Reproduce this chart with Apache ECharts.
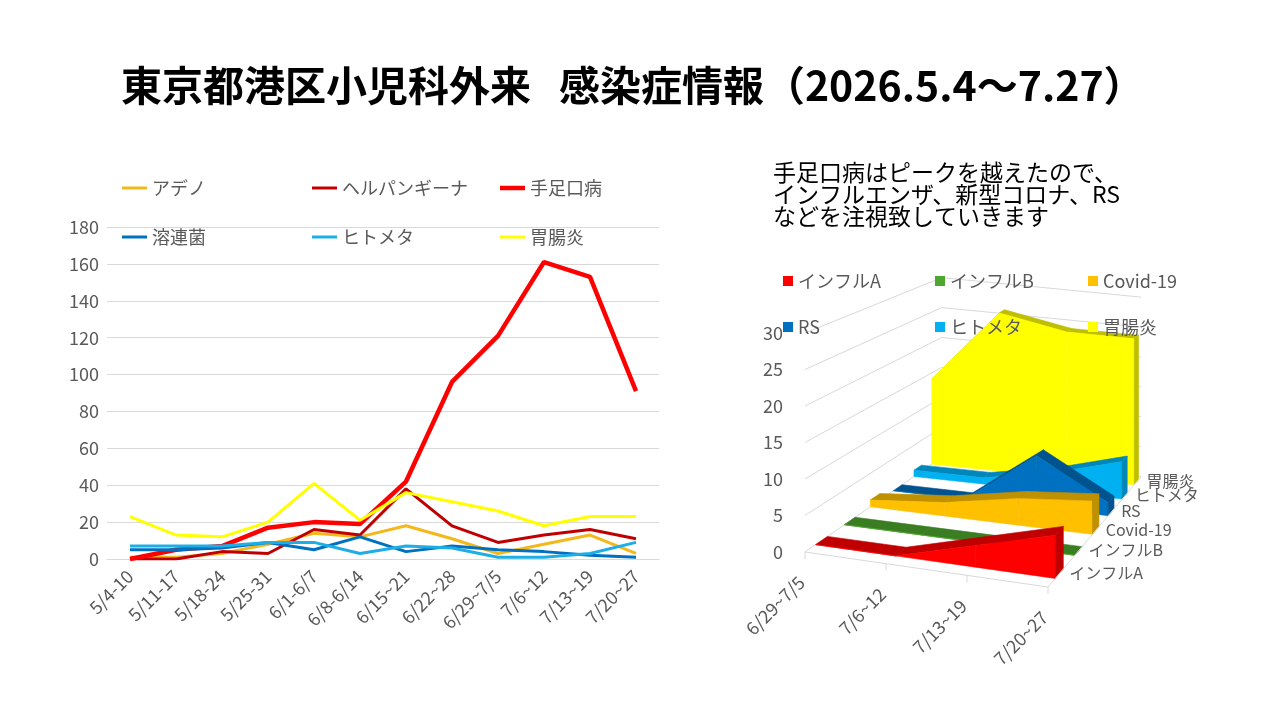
<!DOCTYPE html>
<html>
<head>
<meta charset="utf-8">
<script src="https://cdn.jsdelivr.net/npm/echarts@6/dist/echarts.min.js"></script>
<style>
  html, body { margin: 0; padding: 0; background: #fff; }
  #chart { width: 1280px; height: 720px; }
</style>
</head>
<body>
<div id="chart"></div>
<script>
// ---- line chart data ----
const weeks = ['5/4-10', '5/11-17', '5/18-24', '5/25-31', '6/1-6/7', '6/8-6/14',
  '6/15~21', '6/22~28', '6/29~7/5', '7/6~12', '7/13~19', '7/20~27'];
const adeno = [1, 1, 3, 8, 14, 12, 18, 11, 3, 8, 13, 3];
const herpangina = [0, 0, 4, 3, 16, 13, 38, 18, 9, 13, 16, 11];
const hfmd = [0, 5, 7, 17, 20, 19, 42, 96, 121, 161, 153, 91];
const strep = [5, 5, 6, 9, 5, 12, 4, 7, 5, 4, 2, 1];
const hmpv = [7, 7, 7, 9, 9, 3, 7, 6, 1, 1, 3, 9];
const gastro = [23, 13, 12, 20, 41, 21, 36, 31, 26, 18, 23, 23];

// ---- 3d area chart data (front row first) ----
const weeks3d = ['6/29~7/5', '7/6~12', '7/13~19', '7/20~27'];
const names3d = ['インフルA', 'インフルB', 'Covid-19', 'RS', 'ヒトメタ', '胃腸炎'];
const fluA = [0, 0, 3, 6];
const fluB = [0, 0, 0, 0];
const covid = [1, 2, 4, 5];
const rs = [0, 0, 8, 2];
const hmpv3d = [1, 1, 3, 6];
const gastro3d = [14, 26, 24, 24];
const ticks3d = [0, 5, 10, 15, 20, 25, 30];

const rows3d = [fluA, fluB, covid, rs, hmpv3d, gastro3d];
const colors3d = ['#ff0000', '#4ea72e', '#ffc000', '#0070c0', '#00b0f0', '#ffff00'];
const shade3d = ['#c00000', '#3a7d22', '#bf9000', '#00538f', '#0086b8', '#bfbf00'];

const FONT = '"Noto Sans CJK JP", "Noto Sans", sans-serif';
const GRAY = '#595959';

// rough perspective of (category, value, depth) onto grid 1
const DX = 0.2815, DY = 2.164, SLOPE = 1.6, DEPTH = 6;
const KX = 0.03, KS = 0.074, KV = 0.03, WARP = 0.06;
function proj(api, c, v, d) {
  const w = d + WARP * d * (DEPTH - d);
  return api.coord([
    w * DX + c * (1 - KX * w),
    w * DY + v * (1 - KV * w) - SLOPE * c * (1 - KS * w)
  ]);
}
const poly = (pts, color) => ({
  type: 'polygon', shape: { points: pts },
  style: { fill: color, stroke: color, lineWidth: 0.6 }
});

const chart = echarts.init(document.getElementById('chart'));

const lineSeries = [
  ['アデノ', adeno, '#f4b81c', 3],
  ['ヘルパンギーナ', herpangina, '#c00000', 3],
  ['手足口病', hfmd, '#ff0000', 4.5],
  ['溶連菌', strep, '#0070c0', 3],
  ['ヒトメタ', hmpv, '#1eaee6', 3],
  ['胃腸炎', gastro, '#ffff00', 3]
].map(([name, data, color, width]) => ({
  type: 'line', name, data, xAxisIndex: 0, yAxisIndex: 0,
  symbol: 'none', color,
  lineStyle: { color, width }
}));

const areaSeries = [];
for (let s = rows3d.length - 1; s >= 0; s--) {
  const vals = rows3d[s];
  areaSeries.push({
    type: 'custom', name: names3d[s], xAxisIndex: 1, yAxisIndex: 1,
    itemStyle: { color: colors3d[s] }, clip: false, silent: true,
    data: vals.map((v, i) => [i, v]),
    renderItem: (params, api) => {
      const i = api.value(0), v = api.value(1);
      const d0 = s + 0.35, d1 = s + 0.75;
      const kids = [];
      if (i < vals.length - 1) {
        const vn = vals[i + 1];
        kids.push(poly([proj(api, i, v, d0), proj(api, i + 1, vn, d0),
          proj(api, i + 1, vn, d1), proj(api, i, v, d1)], shade3d[s]));
        kids.push(poly([proj(api, i, 0, d0), proj(api, i, v, d0),
          proj(api, i + 1, vn, d0), proj(api, i + 1, 0, d0)], colors3d[s]));
      } else {
        kids.push(poly([proj(api, i, 0, d0), proj(api, i, v, d0),
          proj(api, i, v, d1), proj(api, i, 0, d1)], shade3d[s]));
      }
      return { type: 'group', children: kids };
    }
  });
}

// walls: gridlines on the side and back walls
const wallSeries = {
  type: 'custom', xAxisIndex: 1, yAxisIndex: 1, clip: false, silent: true,
  data: ticks3d.map(t => [t]),
  renderItem: (params, api) => {
    const v = api.value(0), last = weeks3d.length - 1;
    return {
      type: 'polyline',
      shape: { points: [proj(api, 0, v, 0), proj(api, 0, v, DEPTH), proj(api, last, v, DEPTH)] },
      style: { stroke: '#d9d9d9', lineWidth: 1, fill: null }
    };
  }
};

// floor edges, category labels and row labels
const axisSeries = {
  type: 'custom', xAxisIndex: 1, yAxisIndex: 1, clip: false, silent: true,
  data: weeks3d.map((w, i) => [i]),
  renderItem: (params, api) => {
    const i = api.value(0), last = weeks3d.length - 1;
    const kids = [];
    const p = proj(api, i, 0, 0);
    kids.push({ type: 'line', shape: { x1: p[0], y1: p[1], x2: p[0], y2: p[1] + 7 },
      style: { stroke: '#d9d9d9', lineWidth: 1 } });
    kids.push({ type: 'text', x: p[0] - 10, y: p[1] + 21, rotation: Math.PI / 4,
      style: { text: weeks3d[i], align: 'right', verticalAlign: 'top',
        fill: GRAY, fontSize: 18, fontFamily: FONT } });
    if (i === 0) {
      const q = proj(api, last, 0, 0), r = proj(api, last, 0, DEPTH);
      kids.push({ type: 'polyline', shape: { points: [p, q, r] },
        style: { stroke: '#d9d9d9', lineWidth: 1, fill: null } });
      names3d.forEach((n, s) => {
        const a = proj(api, last, 0, s + 0.55);
        kids.push({ type: 'text', x: a[0] + 10, y: a[1] - 1,
          style: { text: n, align: 'left', verticalAlign: 'middle',
            fill: GRAY, fontSize: 16, fontFamily: FONT } });
      });
    }
    return { type: 'group', children: kids };
  }
};

const legendText = { color: GRAY, fontSize: 18, fontFamily: FONT };
const lineLegendPos = [[122, 179], [312, 179], [500, 179], [122, 228], [312, 228], [500, 228]];
const areaLegendPos = [[783, 272], [935, 272], [1088, 272], [783, 318], [935, 318], [1088, 318]];
const legends = [];
lineSeries.forEach((sr, k) => legends.push({
  data: [{ name: sr.name, icon: 'rect', itemStyle: { color: sr.color } }],
  left: lineLegendPos[k][0], top: lineLegendPos[k][1], padding: 0,
  itemWidth: 25, itemHeight: sr.lineStyle.width, selectedMode: false, textStyle: legendText
}));
names3d.forEach((n, k) => legends.push({
  data: [{ name: n, icon: 'rect', itemStyle: { color: colors3d[k] } }],
  left: areaLegendPos[k][0], top: areaLegendPos[k][1], padding: 0,
  itemWidth: 10, itemHeight: 10, selectedMode: false, textStyle: legendText
}));

chart.setOption({
  animation: false,
  backgroundColor: '#fff',
  title: {
    text: '東京都港区小児科外来   感染症情報（2026.5.4～7.27）',
    left: 116, top: 60,
    textStyle: { fontSize: 41, fontWeight: 'bold', color: '#000', fontFamily: FONT }
  },
  graphic: [{
    type: 'text', left: 773, top: 161,
    style: {
      text: '手足口病はピークを越えたので、\nインフルエンザ、新型コロナ、RS\nなどを注視致していきます',
      fontSize: 23, lineHeight: 22, fill: '#000', fontFamily: FONT
    }
  }],
  legend: legends,
  grid: [
    { left: 107, top: 227, width: 552, height: 332 },
    { left: 805, top: 260, width: 364.5, height: 365 }
  ],
  xAxis: [
    {
      gridIndex: 0, type: 'category', data: weeks, boundaryGap: true,
      axisLine: { lineStyle: { color: '#d9d9d9' } }, axisTick: { show: false },
      axisLabel: { interval: 0, rotate: 45, margin: 14, color: GRAY, fontSize: 18, fontFamily: FONT }
    },
    { gridIndex: 1, type: 'value', min: 0, max: 4.5, show: false }
  ],
  yAxis: [
    {
      gridIndex: 0, type: 'value', min: 0, max: 180, interval: 20,
      axisLine: { show: false }, axisTick: { show: false },
      axisLabel: { margin: 8, color: GRAY, fontSize: 18, fontFamily: FONT },
      splitLine: { lineStyle: { color: '#d9d9d9' } }
    },
    {
      gridIndex: 1, type: 'value', min: -10, max: 40, interval: 5,
      axisLine: { show: false }, axisTick: { show: false }, splitLine: { show: false },
      axisLabel: {
        margin: 22, color: GRAY, fontSize: 18, fontFamily: FONT,
        formatter: v => (ticks3d.includes(v) ? String(v) : '')
      }
    }
  ],
  series: [...lineSeries, wallSeries, ...areaSeries, axisSeries]
});
</script>
</body>
</html>
